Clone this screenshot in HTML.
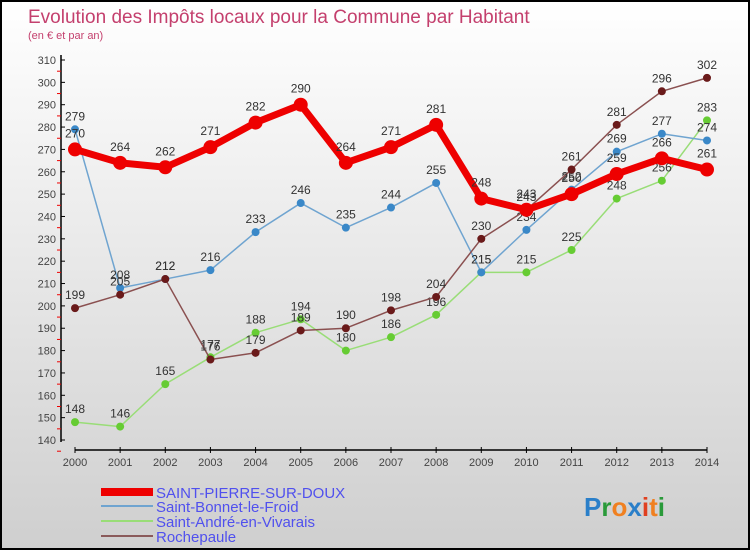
<!DOCTYPE html>
<html><head><meta charset="utf-8"><style>
body{margin:0}
#c{width:750px;height:550px;position:relative;box-sizing:border-box;border:2px solid #000;background:linear-gradient(#fff,#cfcfcf);font-family:"Liberation Sans",sans-serif;overflow:hidden}
</style></head><body>
<div id="c">
<svg id="s" width="746" height="546" style="position:absolute;left:0;top:0">
<text x="26" y="21" font-size="19" fill="#c4406e">Evolution des Impôts locaux pour la Commune par Habitant</text>
<text x="26" y="37" font-size="11" fill="#c4406e">(en € et par an)</text>
<g id="axes"></g><g id="series"></g>
<g font-size="15" fill="#5050ee">
<rect x="99" y="486" width="52" height="8" fill="#e00"/>
<text x="154" y="496">SAINT-PIERRE-SUR-DOUX</text>
<rect x="99" y="503" width="52" height="2" fill="#6fa4d0"/>
<text x="154" y="510">Saint-Bonnet-le-Froid</text>
<rect x="99" y="518" width="52" height="2" fill="#99dd77"/>
<text x="154" y="525">Saint-André-en-Vivarais</text>
<rect x="99" y="533" width="52" height="2" fill="#8a5a5a"/>
<text x="154" y="540">Rochepaule</text>
</g>
<g font-size="26" font-weight="bold">
<text x="582" y="514"><tspan fill="#2a7fc9">P</tspan><tspan fill="#2a9a3a">r</tspan><tspan fill="#f08020">o</tspan><tspan fill="#2a7fc9">x</tspan><tspan fill="#e04020">i</tspan><tspan fill="#f08020">t</tspan><tspan fill="#2a9a3a">i</tspan></text>
</g>
</svg></div>
<script>
const years=[2000,2001,2002,2003,2004,2005,2006,2007,2008,2009,2010,2011,2012,2013,2014];
const yTicks=[140,150,160,170,180,190,200,210,220,230,240,250,260,270,280,290,300,310];
const spsd=[270,264,262,271,282,290,264,271,281,248,243,250,259,266,261];
const bonnet=[279,208,212,216,233,246,235,244,255,215,234,252,269,277,274];
const andre=[148,146,165,177,188,194,180,186,196,215,215,225,248,256,283];
const roche=[199,205,212,176,179,189,190,198,204,230,243,261,281,296,302];
const NS="http://www.w3.org/2000/svg";
const X=i=>73+i*(632/14), Y=v=>438-(v-140)*(380/170);
function mk(t,a,p){const e=document.createElementNS(NS,t);for(const k in a)e.setAttribute(k,a[k]);p.appendChild(e);return e;}
const ax=document.getElementById('axes'),sg=document.getElementById('series');
let yl=mk('line',{x1:59,y1:53,x2:59,y2:440,stroke:'#000','stroke-width':1.5},ax);

let xl=mk('line',{x1:73,y1:448,x2:705,y2:448,stroke:'#000','stroke-width':1.5},ax);

yTicks.forEach(v=>{const y=Y(v);
 mk('line',{x1:59,x2:63,y1:y,y2:y,stroke:'#000'},ax);
 mk('line',{x1:55,x2:59,y1:y+11.2,y2:y+11.2,stroke:'#e00'},ax);
 const t=mk('text',{x:54,y:y+4,'text-anchor':'end','font-size':11,fill:'#444'},ax);t.textContent=v;
 });
years.forEach((yr,i)=>{const x=X(i);
 mk('line',{x1:x,x2:x,y1:445,y2:451,stroke:'#000'},ax);
 const t=mk('text',{x:x,y:464,'text-anchor':'middle','font-size':11,fill:'#444'},ax);t.textContent=yr;
 });
function series(d,col,w,r,dot,name){
 const g=mk('g',{},sg);
 mk('polyline',{points:d.map((v,i)=>X(i)+','+Y(v)).join(' '),fill:'none',stroke:col,'stroke-width':w,'stroke-linejoin':'round'},g);
 d.forEach((v,i)=>{const c=mk('circle',{cx:X(i),cy:Y(v),r:r,fill:dot},g);
  
  const t=mk('text',{x:X(i),y:Y(v)-(r+5),'text-anchor':'middle','font-size':12,fill:'#333'},g);t.textContent=v;
  });
}
series(andre,'#99dd77',1.5,4,'#66cc33','series-saint-andre');
series(bonnet,'#6fa4d0',1.5,4,'#3a88c8','series-saint-bonnet');
series(roche,'#8a5050',1.5,4,'#6a1a1a','series-rochepaule');
series(spsd,'#e00',7,7,'#e00','series-saint-pierre');
</script></body></html>
